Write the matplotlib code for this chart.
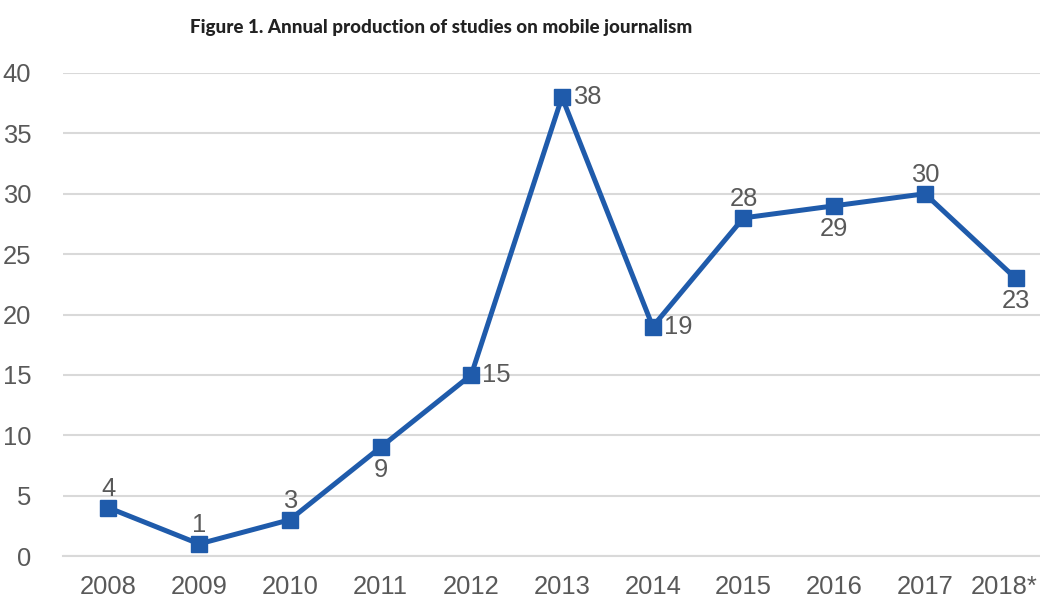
import matplotlib
matplotlib.use("Agg")
import matplotlib.pyplot as plt
from matplotlib.transforms import ScaledTranslation

years = ["2008", "2009", "2010", "2011", "2012", "2013", "2014", "2015", "2016", "2017", "2018*"]
counts = [4, 1, 3, 9, 15, 38, 19, 28, 29, 30, 23]
label_pos = ["above", "above", "above", "below", "right", "right", "right", "above", "below", "above", "below"]
yticks = [0, 5, 10, 15, 20, 25, 30, 35, 40]

W, H = 1040, 601
fig = plt.figure(figsize=(W / 100, H / 100), dpi=100)
left, right = 63, 1061
bottom, top = 556, 73
ax = fig.add_axes([left / W, 1 - bottom / H, (right - left) / W, (bottom - top) / H])

line_color = "#1f5bab"
text_color = "#595959"
grid_color = "#d9d9d9"

x = list(range(len(years)))
ax.plot(x, counts, color=line_color, lw=3.6, marker="s", markersize=11,
        markerfacecolor=line_color, markeredgecolor=line_color, zorder=3,
        solid_joinstyle="miter")

ax.set_xlim(-0.5, len(years) - 0.5)
ax.set_ylim(0, 40)
ax.set_yticks(yticks)
ax.set_xticks(x)
ax.set_xticklabels(years)
ax.yaxis.grid(True, color=grid_color, lw=1.5)
ax.set_axisbelow(True)
for s in ["top", "right", "left"]:
    ax.spines[s].set_visible(False)
ax.spines["bottom"].set_color(grid_color)
ax.spines["bottom"].set_linewidth(1.5)
ax.tick_params(axis="both", length=0, labelsize=18.4, labelcolor=text_color)
ax.tick_params(axis="y", pad=23)
ax.tick_params(axis="x", pad=14)
for lab in ax.get_xticklabels() + ax.get_yticklabels():
    lab.set_fontfamily("Liberation Sans")
last = ax.get_xticklabels()[-1]
last.set_transform(last.get_transform() + ScaledTranslation(-0.12, 0, fig.dpi_scale_trans))

for xi, v, p in zip(x, counts, label_pos):
    if p == "above":
        ax.annotate(str(v), (xi, v), xytext=(0, 5), textcoords="offset points",
                    ha="center", va="bottom", fontsize=18.4, color=text_color,
                    family="Liberation Sans")
    elif p == "below":
        ax.annotate(str(v), (xi, v), xytext=(0, -8), textcoords="offset points",
                    ha="center", va="top", fontsize=18.4, color=text_color,
                    family="Liberation Sans")
    else:
        ax.annotate(str(v), (xi, v), xytext=(8, 0), textcoords="offset points",
                    ha="left", va="center", fontsize=18.4, color=text_color,
                    family="Liberation Sans")

fig.text(441 / W, 1 - 28 / H, "Figure 1. Annual production of studies on mobile journalism",
         ha="center", va="center", fontsize=13.5, fontweight=900, color="#222222",
         family="Lato")

fig.savefig("out.png", dpi=100, facecolor="white")
